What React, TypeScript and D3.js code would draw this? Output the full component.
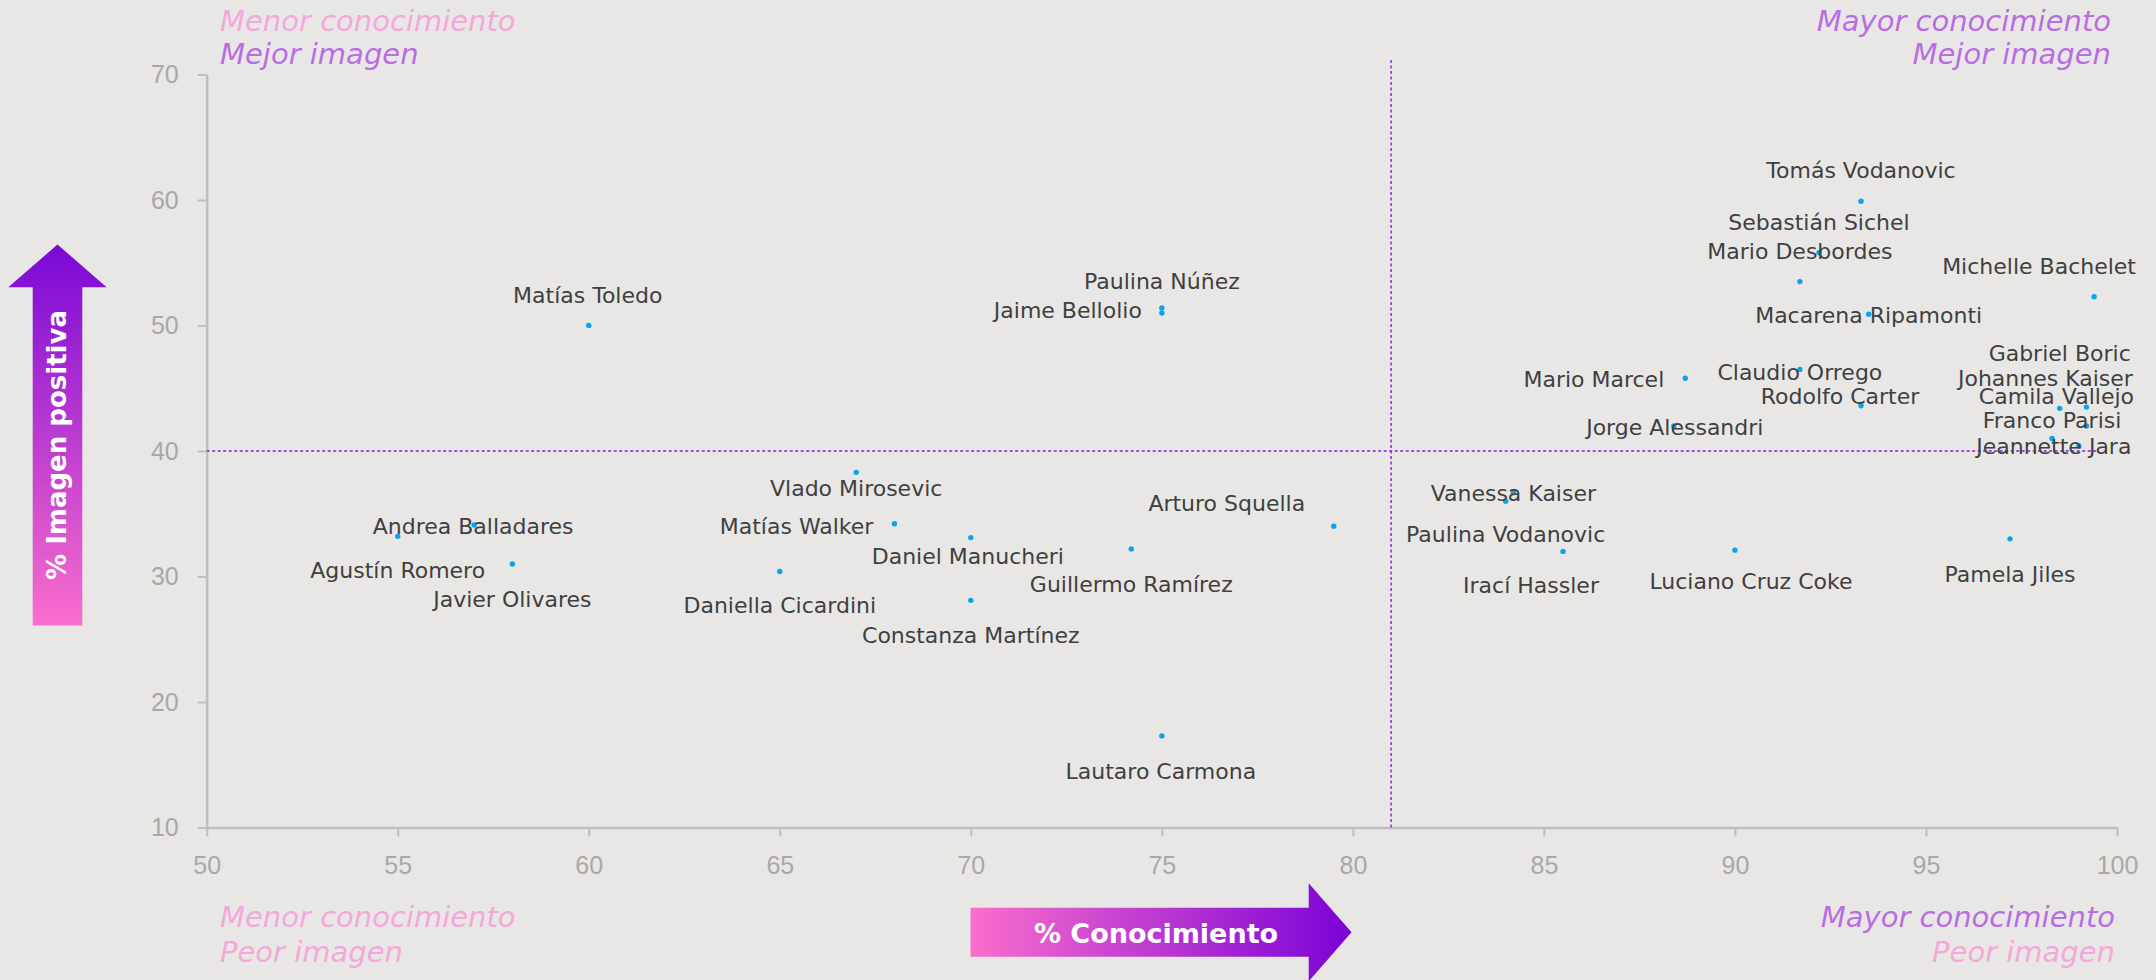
import React, { useEffect, useRef } from "react";
import * as d3 from "d3";

// % conocimiento (x) and % imagen positiva (y) per person
const names = [
  "Matías Toledo", "Paulina Núñez", "Jaime Bellolio", "Tomás Vodanovic", "Sebastián Sichel",
  "Mario Desbordes", "Michelle Bachelet", "Macarena Ripamonti", "Mario Marcel", "Claudio Orrego",
  "Rodolfo Carter", "Jorge Alessandri", "Gabriel Boric", "Johannes Kaiser", "Camila Vallejo",
  "Franco Parisi", "Jeannette Jara", "Vanessa Kaiser", "Paulina Vodanovic", "Irací Hassler",
  "Luciano Cruz Coke", "Pamela Jiles", "Vlado Mirosevic", "Andrea Balladares", "Agustín Romero",
  "Javier Olivares", "Matías Walker", "Daniel Manucheri", "Daniella Cicardini", "Constanza Martínez",
  "Guillermo Ramírez", "Arturo Squella", "Lautaro Carmona",
];
const conocimiento = [
  60, 75, 75, 93.3, 92.2,
  91.7, 99.4, 93.5, 88.7, 91.7,
  93.3, 88.4, 98.5, 99.2, 99.2,
  98.3, 99.0, 84.2, 84.0, 85.5,
  90.0, 97.2, 67.0, 57.0, 55.0,
  58.0, 68.0, 70.0, 65.0, 70.0,
  74.2, 79.5, 75.0,
];
const imagen = [
  50, 51.4, 51.0, 59.9, 55.8,
  53.5, 52.3, 50.9, 45.8, 46.5,
  43.6, 42.0, 43.4, 43.5, 42.0,
  41.0, 40.4, 36.7, 36.0, 32.0,
  32.1, 33.0, 38.3, 34.1, 33.2,
  31.0, 34.2, 33.1, 30.4, 28.1,
  32.2, 34.0, 17.3,
];
const xTicks = [50, 55, 60, 65, 70, 75, 80, 85, 90, 95, 100];
const yTicks = [10, 20, 30, 40, 50, 60, 70];
const refX = 81;
const refY = 40;

// label placement around each dot: [dx, dy, anchor]
const labelPlacement: Record<string, [number, number, string]> = {
  "Matías Toledo": [-1, -31, "middle"],
  "Paulina Núñez": [0, -27, "middle"],
  "Jaime Bellolio": [-20, -3, "end"],
  "Tomás Vodanovic": [0, -31, "middle"],
  "Sebastián Sichel": [0, -31, "middle"],
  "Mario Desbordes": [0, -31, "middle"],
  "Michelle Bachelet": [-55, -31, "middle"],
  "Macarena Ripamonti": [0, 1, "middle"],
  "Mario Marcel": [-21, 1, "end"],
  "Claudio Orrego": [0, 3, "middle"],
  "Rodolfo Carter": [-21, -10, "middle"],
  "Jorge Alessandri": [1, 1, "middle"],
  "Gabriel Boric": [0, -55, "middle"],
  "Johannes Kaiser": [-41, -29, "middle"],
  "Camila Vallejo": [-30, -30, "middle"],
  "Franco Parisi": [0, -18, "middle"],
  "Jeannette Jara": [-25, 0, "middle"],
  "Vanessa Kaiser": [0, 1, "middle"],
  "Paulina Vodanovic": [0, 33, "middle"],
  "Irací Hassler": [-32, 34, "middle"],
  "Luciano Cruz Coke": [16, 31, "middle"],
  "Pamela Jiles": [0, 35, "middle"],
  "Vlado Mirosevic": [0, 16, "middle"],
  "Andrea Balladares": [-1, 1, "middle"],
  "Agustín Romero": [0, 34, "middle"],
  "Javier Olivares": [0, 35, "middle"],
  "Matías Walker": [-21, 2, "end"],
  "Daniel Manucheri": [-3, 18, "middle"],
  "Daniella Cicardini": [0, 34, "middle"],
  "Constanza Martínez": [0, 35, "middle"],
  "Guillermo Ramírez": [0, 35, "middle"],
  "Arturo Squella": [-107, -23, "middle"],
  "Lautaro Carmona": [-1, 35, "middle"],
};

const PINK = "#F4A8DA";
const PURPLE = "#B96DE3";

export default function App() {
  const ref = useRef<SVGSVGElement>(null);

  useEffect(() => {
    const width = 2156, height = 980;
    const svg = d3.select(ref.current);
    svg.selectAll("*").remove();

    svg.append("rect").attr("width", width).attr("height", height).attr("fill", "#E8E7E5");

    const defs = svg.append("defs");
    const gv = defs.append("linearGradient").attr("id", "gradV")
      .attr("x1", 0).attr("y1", 1).attr("x2", 0).attr("y2", 0);
    gv.append("stop").attr("offset", "0%").attr("stop-color", "#FA6ECC");
    gv.append("stop").attr("offset", "100%").attr("stop-color", "#7A08D6");
    const gh = defs.append("linearGradient").attr("id", "gradH")
      .attr("x1", 0).attr("y1", 0).attr("x2", 1).attr("y2", 0);
    gh.append("stop").attr("offset", "0%").attr("stop-color", "#FA6ECC");
    gh.append("stop").attr("offset", "100%").attr("stop-color", "#7A02D6");

    const x = d3.scaleLinear().domain([50, 100]).range([206.7, 2117]);
    const y = d3.scaleLinear().domain([10, 70]).range([827.5, 74.5]);

    // axes
    const xAxis = svg.append("g")
      .attr("transform", "translate(0," + y(10) + ")")
      .call(d3.axisBottom(x).tickValues(xTicks).tickSize(9).tickSizeOuter(0).tickPadding(20));
    const yAxis = svg.append("g")
      .attr("transform", "translate(" + x(50) + ",0)")
      .call(d3.axisLeft(y).tickValues(yTicks).tickSize(9).tickSizeOuter(0).tickPadding(19));
    [xAxis, yAxis].forEach((a) => {
      a.select(".domain").attr("stroke", "#BFBFBF").attr("stroke-width", 2.5);
      a.selectAll(".tick line").attr("stroke", "#BFBFBF").attr("stroke-width", 2);
      a.selectAll(".tick text")
        .attr("fill", "#A8A8A8")
        .style("font-family", "'Liberation Sans', Arial, sans-serif")
        .style("font-size", "25px");
    });

    // reference lines
    svg.append("line")
      .attr("x1", x(refX)).attr("x2", x(refX))
      .attr("y1", y(10)).attr("y2", y(71.3))
      .attr("stroke", "#8A1BE6").attr("stroke-width", 1.4).attr("stroke-dasharray", "3,2.5");
    svg.append("line")
      .attr("x1", x(50)).attr("x2", x(99.5))
      .attr("y1", y(refY)).attr("y2", y(refY))
      .attr("stroke", "#8A1BE6").attr("stroke-width", 1.4).attr("stroke-dasharray", "3,2.5");

    const pts = names.map((n, i) => ({ name: n, cx: conocimiento[i], cy: imagen[i] }));

    // dots
    svg.append("g")
      .selectAll("circle")
      .data(pts)
      .enter()
      .append("circle")
      .attr("cx", (d) => x(d.cx))
      .attr("cy", (d) => y(d.cy))
      .attr("r", 2.7)
      .attr("fill", "#0AA4EA");

    // labels
    svg.append("g")
      .selectAll("text")
      .data(pts)
      .enter()
      .append("text")
      .attr("x", (d) => x(d.cx) + labelPlacement[d.name][0])
      .attr("y", (d) => y(d.cy) + labelPlacement[d.name][1] + 8)
      .attr("text-anchor", (d) => labelPlacement[d.name][2])
      .attr("fill", "#404040")
      .style("font-family", "'DejaVu Sans', sans-serif")
      .style("font-size", "22px")
      .text((d) => d.name);

    // quadrant notes
    const note = (tx: number, ty: number, anchor: string, color: string, txt: string) =>
      svg.append("text")
        .attr("x", tx).attr("y", ty)
        .attr("text-anchor", anchor)
        .attr("fill", color)
        .style("font-family", "'DejaVu Sans', sans-serif")
        .style("font-size", "29px")
        .style("font-style", "italic")
        .style("font-weight", 200)
        .text(txt);
    note(220, 30.7, "start", PINK, "Menor conocimiento");
    note(220, 64, "start", PURPLE, "Mejor imagen");
    note(2111, 30.7, "end", PURPLE, "Mayor conocimiento");
    note(2111, 64, "end", PURPLE, "Mejor imagen");
    note(220, 926.7, "start", PINK, "Menor conocimiento");
    note(220, 961.7, "start", PINK, "Peor imagen");
    note(2115, 926.7, "end", PURPLE, "Mayor conocimiento");
    note(2115, 961.7, "end", PINK, "Peor imagen");

    // axis title arrows
    svg.append("path")
      .attr("d", "M32.7,625.6 L82.3,625.6 L82.3,287.3 L106.7,287.3 L57.5,244.5 L8.3,287.3 L32.7,287.3 Z")
      .attr("fill", "url(#gradV)");
    svg.append("text")
      .attr("transform", "translate(66,445) rotate(-90)")
      .attr("text-anchor", "middle")
      .attr("fill", "#FFFFFF")
      .style("font-family", "'DejaVu Sans', sans-serif")
      .style("font-weight", "bold")
      .style("font-size", "26px")
      .text("% Imagen positiva");

    svg.append("path")
      .attr("d", "M970.5,907.7 L1308.7,907.7 L1308.7,883.3 L1351.5,932.3 L1308.7,981.3 L1308.7,956.7 L970.5,956.7 Z")
      .attr("fill", "url(#gradH)");
    svg.append("text")
      .attr("x", 1156).attr("y", 942.5)
      .attr("text-anchor", "middle")
      .attr("fill", "#FFFFFF")
      .style("font-family", "'DejaVu Sans', sans-serif")
      .style("font-weight", "bold")
      .style("font-size", "27px")
      .text("% Conocimiento");
  }, []);

  return (
    <svg
      ref={ref}
      width={2156}
      height={980}
      style={{ position: "absolute", left: 0, top: 0, display: "block" }}
    />
  );
}
